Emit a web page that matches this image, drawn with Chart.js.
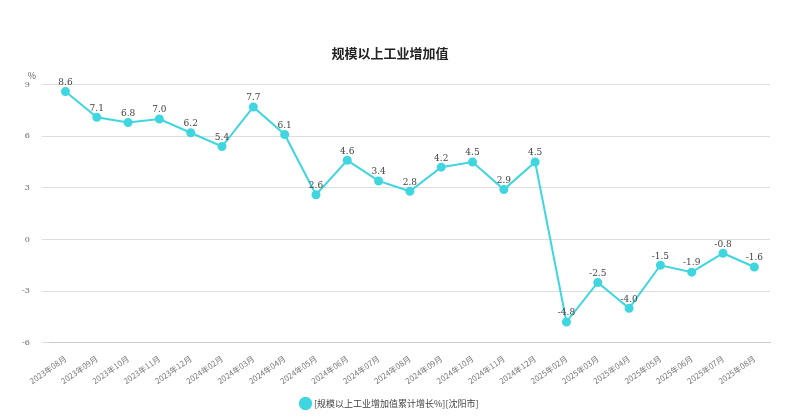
<!DOCTYPE html>
<html><head><meta charset="utf-8">
<script src="https://cdn.jsdelivr.net/npm/chart.js@4/dist/chart.umd.min.js"></script>
<style>html,body{margin:0;background:#fff}</style>
</head><body><canvas id="c" width="800" height="418"></canvas>
<script>
const categories=["2023年08月","2023年09月","2023年10月","2023年11月","2023年12月","2024年02月","2024年03月","2024年04月","2024年05月","2024年06月","2024年07月","2024年08月","2024年09月","2024年10月","2024年11月","2024年12月","2025年02月","2025年03月","2025年04月","2025年05月","2025年06月","2025年07月","2025年08月"];
const values=[8.6,7.1,6.8,7.0,6.2,5.4,7.7,6.1,2.6,4.6,3.4,2.8,4.2,4.5,2.9,4.5,-4.8,-2.5,-4.0,-1.5,-1.9,-0.8,-1.6];
const yTicks=[-6,-3,0,3,6,9];
const seriesName="[规模以上工业增加值累计增长%][沈阳市]";
const FONT="'Noto Sans CJK SC', sans-serif";
const labelsPlugin={id:'lbl',afterDatasetsDraw(ch){const ctx=ch.ctx;const m=ch.getDatasetMeta(0);ctx.save();ctx.font="9px 'DejaVu Serif', serif";ctx.fillStyle='#444';ctx.textAlign='center';
m.data.forEach((p,i)=>{ctx.fillText(values[i].toFixed(1),p.x,p.y-9);});
ctx.font="9px "+FONT;ctx.fillStyle='#666';ctx.fillText('%',32,76);ctx.restore();}};
new Chart(document.getElementById('c'),{type:'line',
data:{labels:categories,datasets:[{label:seriesName,data:values,borderColor:'#3fd6df',backgroundColor:'#3fd6df',borderWidth:2,pointRadius:3.5,pointHoverRadius:3.5,tension:0}]},
options:{responsive:false,animation:false,devicePixelRatio:1,
layout:{padding:{left:10,right:30,top:10,bottom:0}},
plugins:{title:{display:true,text:'规模以上工业增加值',font:{family:FONT,size:13,weight:'bold'},color:'#222',padding:{top:35,bottom:24}},
legend:{position:'bottom',labels:{usePointStyle:true,pointStyle:'circle',boxWidth:8,boxHeight:8,font:{family:FONT,size:9},color:'#444'}},tooltip:{enabled:false}},
scales:{x:{offset:true,grid:{display:false},border:{color:'#ccc'},ticks:{maxRotation:35,minRotation:35,font:{family:FONT,size:8},color:'#777',autoSkip:false}},
y:{min:-6,max:9,afterBuildTicks(a){a.ticks=yTicks.map(v=>({value:v}));},grid:{color:'#ddd'},border:{display:false},ticks:{font:{family:"'DejaVu Serif', serif",size:8},color:'#666',padding:12}}}},
plugins:[labelsPlugin]});
</script></body></html>
